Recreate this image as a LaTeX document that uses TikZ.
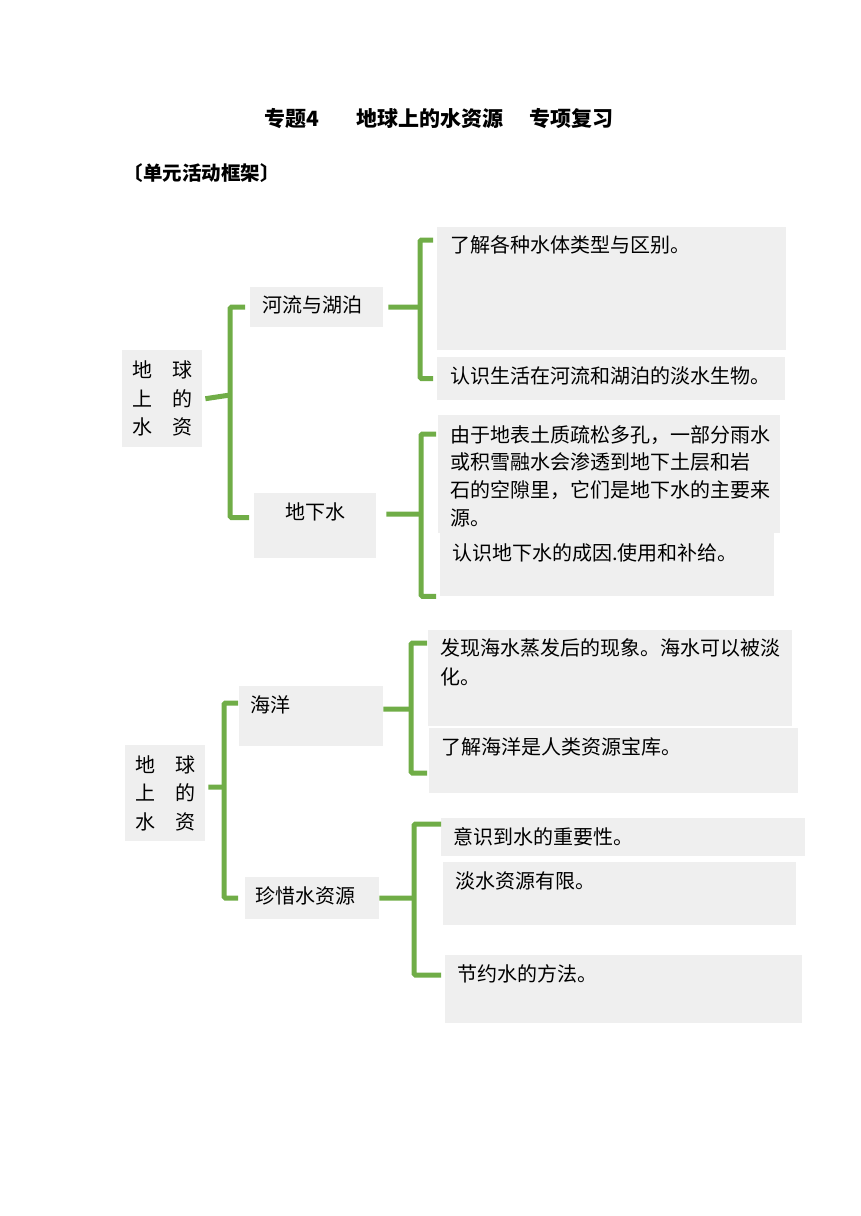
\documentclass[tikz,border=0pt]{standalone}
\usepackage{fontspec}
\usepackage{xcolor}
\usepackage{tikz}
\usetikzlibrary{positioning}
\newfontfamily\cjk{Noto Sans CJK SC}
\definecolor{boxgray}{HTML}{EFEFEF}
\definecolor{brgreen}{HTML}{70AD47}

\begin{document}
\begin{tikzpicture}[
  x=1pt, y=-1pt,
  font=\cjk\fontsize{20}{28}\selectfont,
  cell/.style={fill=boxgray, anchor=north west, inner sep=0pt},
  root/.style={fill=boxgray, anchor=north west, inner sep=0pt, align=center,
    minimum width=80pt, minimum height=97pt, font=\cjk\fontsize{20}{28.5}\selectfont},
  tx/.style={anchor=north west, inner sep=0pt, align=left},
  br/.style={draw=brgreen, line width=5pt, rounded corners=1.5pt},
]
\useasboundingbox (0,0) rectangle (860,1216);

\node[anchor=base west, font=\cjk\bfseries\fontsize{21}{26}\selectfont] (title) at (261,126)
  {专题4\hspace{37pt}地球上的水资源\hspace{26pt}专项复习};
\node[anchor=base west, font=\cjk\bfseries\fontsize{19.5}{24}\selectfont] (sub) at (120,180)
  {〔单元活动框架〕};

% first map
\node[root] (r1) at (122,350) {地\hspace{20pt}球\\上\hspace{20pt}的\\水\hspace{20pt}资};
\node[cell, minimum width=133pt, minimum height=40pt] (k1) at (250,287) {};
\node[tx] (tk1) at ([shift={(12,8)}]k1.north west) {河流与湖泊};
\node[cell, minimum width=122pt, minimum height=65pt] (k2) at (254,493) {};
\node[tx, anchor=north] (tk2) at ([yshift=-9pt]k2.north) {地下水};

\node[cell, minimum width=349pt, minimum height=123pt] (h1) at (437,227) {};
\node[tx] (th1) at ([shift={(13,8)}]h1.north west) {了解各种水体类型与区别。};
\node[cell, minimum width=348pt, minimum height=43pt] (h2) at (437,357) {};
\node[tx] (th2) at ([shift={(13,9)}]h2.north west) {认识生活在河流和湖泊的淡水生物。};
\node[cell, minimum width=342pt, minimum height=118pt] (g1) at (438,415) {};
\node[cell, minimum width=334pt, minimum height=63pt] (g2) at (440,533) {};
\node[tx, font=\cjk\fontsize{20}{27.7}\selectfont] (tg1) at ([shift={(12,10)}]g1.north west)
  {由于地表土质疏松多孔，一部分雨水\\或积雪融水会渗透到地下土层和岩\\石的空隙里，它们是地下水的主要来\\源。};
\node[tx] (tg2) at ([shift={(12,10)}]g2.north west) {认识地下水的成因.使用和补给。};

\coordinate (s1) at (230,395);
\coordinate (s2) at (420,307);
\coordinate (s3) at (421,514);
\draw[br] ([xshift=3pt]r1.east) -- (s1);
\draw[br] ([xshift=-5pt]k1.west) -| (s1) |- ([xshift=-5pt,yshift=8pt]k2.west);
\draw[br] ([xshift=5pt]k1.east) -- (s2);
\draw[br] ([shift={(-4,13)}]h1.north west) -| (s2) |- ([xshift=-4pt]h2.west);
\draw[br] ([xshift=10pt,yshift=11.5pt]k2.east) -- (s3);
\draw[br] ([shift={(-2,19)}]g1.north west) -| (s3) |- ([xshift=-4pt]g2.south west);

% second map
\node[root, minimum height=96pt] (r2) at (125,745) {地\hspace{20pt}球\\上\hspace{20pt}的\\水\hspace{20pt}资};
\node[cell, minimum width=144pt, minimum height=60pt] (m1) at (239,686) {};
\node[tx] (tm1) at ([shift={(11,9)}]m1.north west) {海洋};
\node[cell, minimum width=134pt, minimum height=42pt] (m2) at (245,877) {};
\node[tx] (tm2) at ([shift={(10,9)}]m2.north west) {珍惜水资源};

\node[cell, minimum width=364pt, minimum height=96pt] (o1) at (428,630) {};
\node[tx, font=\cjk\fontsize{20}{29}\selectfont] (to1) at ([shift={(12,8)}]o1.north west)
  {发现海水蒸发后的现象。海水可以被淡\\化。};
\node[cell, minimum width=369pt, minimum height=65pt] (o2) at (429,728) {};
\node[tx] (to2) at ([shift={(12,9)}]o2.north west) {了解海洋是人类资源宝库。};
\node[cell, minimum width=364pt, minimum height=38pt] (c1) at (441,818) {};
\node[tx] (tc1) at ([shift={(12,9)}]c1.north west) {意识到水的重要性。};
\node[cell, minimum width=353pt, minimum height=63pt] (c2) at (443,862) {};
\node[tx] (tc2) at ([shift={(12,9)}]c2.north west) {淡水资源有限。};
\node[cell, minimum width=357pt, minimum height=68pt] (c3) at (445,955) {};
\node[tx] (tc3) at ([shift={(12,9)}]c3.north west) {节约水的方法。};

\coordinate (s4) at (224,787);
\coordinate (s5) at (411,709);
\coordinate (s6) at (414,898);
\draw[br] ([shift={(3,-6)}]r2.east) -- (s4);
\draw[br] ([shift={(-1,17)}]m1.north west) -| (s4) |- ([xshift=-7pt]m2.west);
\draw[br] ([yshift=7pt]m1.east) -- (s5);
\draw[br] ([shift={(-1,13)}]o1.north west) -| (s5) |- ([shift={(-2,45)}]o2.north west);
\draw[br] (m2.east) -- (s6);
\draw[br] ([yshift=-6pt]c1.north west) -| (s6) |- ([shift={(-4,20)}]c3.north west);
\end{tikzpicture}
\end{document}
